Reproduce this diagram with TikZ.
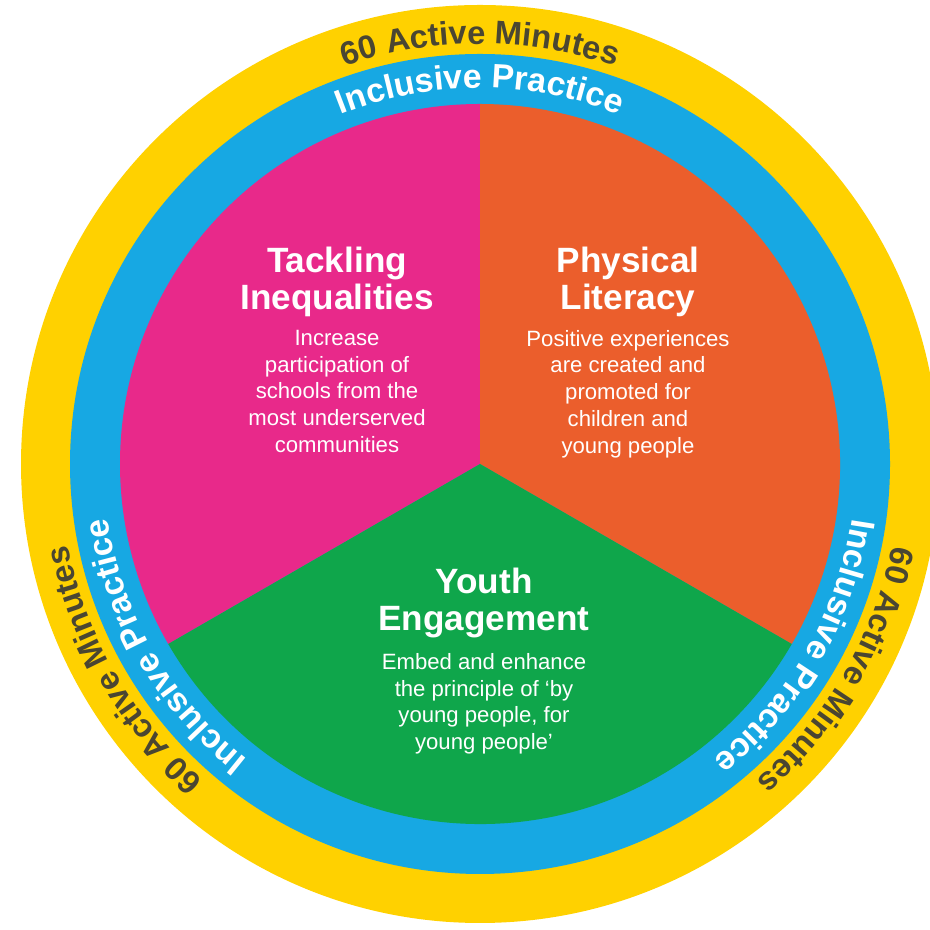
\documentclass[tikz,border=0pt]{standalone}
\usepackage{fontspec}
\setmainfont{Liberation Sans}
\usepackage{tikz}
\usetikzlibrary{calc,positioning,decorations.text}
\definecolor{ringyellow}{HTML}{FFD100}
\definecolor{ringblue}{HTML}{17A8E3}
\definecolor{sectpink}{HTML}{E8298A}
\definecolor{sectorange}{HTML}{EB5E2C}
\definecolor{sectgreen}{HTML}{0FA64B}
\definecolor{minutes}{HTML}{4A4632}
\newcommand\minutesfont{\bfseries\fontsize{9.3}{9.3}\selectfont}
\newcommand\practicefont{\bfseries\fontsize{9.6}{9.6}\selectfont}
\tikzset{
  minutesring/.style={decorate, decoration={text along path, text align=center, text color=minutes, text={|\minutesfont|#1}}},
  practicering/.style={decorate, decoration={text along path, text align=center, text color=white, text={|\practicefont|#1}}},
  head/.style={text=white, font=\bfseries\fontsize{10}{10.5}\selectfont, align=center, inner sep=0pt},
  body/.style={text=white, font=\fontsize{6.3}{7.6}\selectfont, align=center, inner sep=0pt},
}

\begin{document}
\begin{tikzpicture}
  \def\rout{4.59}
  \def\rblue{4.10}
  \def\rin{3.60}
  \def\rmin{4.20}
  \def\rpra{3.76}
  \fill[white] (0,0) rectangle (9.30,9.30);
  \clip (0,0) rectangle (9.30,9.30);
  \coordinate (O) at (4.80,4.66);

  \fill[ringyellow] (O) circle (\rout);
  \fill[ringblue] (O) circle (\rblue);
  \fill[sectpink] (O) -- ($(O)+(90:\rin)$) arc[start angle=90, end angle=210, radius=\rin] -- cycle;
  \fill[sectorange] (O) -- ($(O)+(-30:\rin)$) arc[start angle=-30, end angle=90, radius=\rin] -- cycle;
  \fill[sectgreen] (O) -- ($(O)+(210:\rin)$) arc[start angle=210, end angle=330, radius=\rin] -- cycle;

  \foreach \a in {90,210,330} {
    \path[minutesring={60 Active Minutes}] ($(O)+(\a+60:\rmin)$) arc[start angle=\a+60, end angle=\a-60, radius=\rmin];
    \path[practicering={Inclusive Practice}] ($(O)+(\a+60:\rpra)$) arc[start angle=\a+60, end angle=\a-60, radius=\rpra];
  }

  \node[head] (tackHead) at (3.37,6.48) {Tackling\\Inequalities};
  \node[body, below=1.2mm of tackHead] (tackBody) {Increase\\participation of\\schools from the\\most underserved\\communities};
  \node[head] (physHead) at (6.28,6.48) {Physical\\Literacy};
  \node[body, below=1.2mm of physHead] (physBody) {Positive experiences\\are created and\\promoted for\\children and\\young people};
  \node[head] (youthHead) at (4.84,3.27) {Youth\\Engagement};
  \node[body, below=1.4mm of youthHead] (youthBody) {Embed and enhance\\the principle of ‘by\\young people, for\\young people’};
\end{tikzpicture}
\end{document}
